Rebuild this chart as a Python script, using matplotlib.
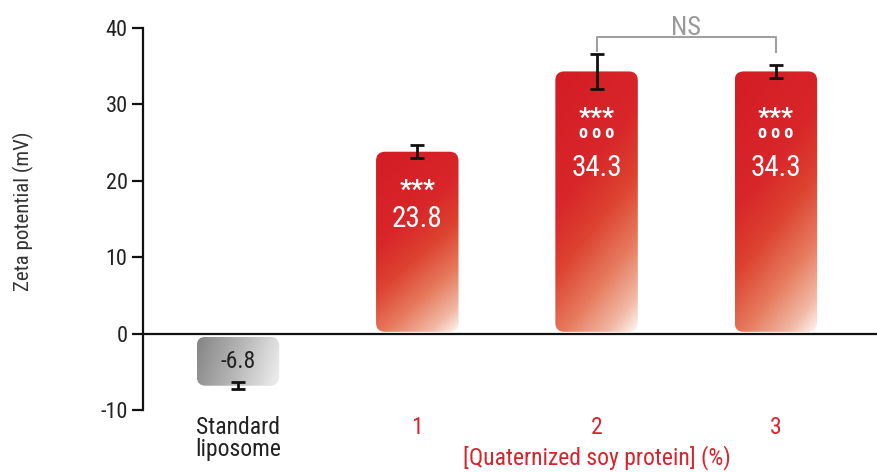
import numpy as np
import matplotlib
matplotlib.use("Agg")
import matplotlib.pyplot as plt
from matplotlib.patches import FancyBboxPatch
from matplotlib.colors import LinearSegmentedColormap

labels = ["Standard\nliposome", "1", "2", "3"]
values = [-6.8, 23.8, 34.3, 34.3]
errors = [0.45, 0.85, 2.3, 0.8]
stars = ["", "***", "***", "***"]
rings = ["", "", "o o o", "o o o"]
value_text = ["-6.8", "23.8", "34.3", "34.3"]

RED = "#d8242c"
plt.rcParams["font.family"] = ["Roboto Condensed", "DejaVu Sans"]

red_cmap = LinearSegmentedColormap.from_list(
    "redgrad", [(0.0, "#d41c25"), (0.38, "#d8262a"), (0.56, "#dd4230"),
                (0.74, "#e6795c"), (0.9, "#f1b8a4"), (1.0, "#fef6f2")])
gray_cmap = LinearSegmentedColormap.from_list(
    "graygrad", [(0.0, "#858585"), (0.5, "#b8b8b8"), (1.0, "#f0f0f0")])

fig = plt.figure(figsize=(8.77, 4.72), dpi=100)
ax = fig.add_axes([0.163, 0.131, 0.837, 0.810])
XLIM = (-0.53, 3.564)
YLIM = (-10, 40)
ax.set_xlim(XLIM)
ax.set_ylim(YLIM)

width = 0.46
# pixel scales so the rounded corners come out circular
fig.canvas.draw()
bbox = ax.get_window_extent()
px_x = bbox.width / (XLIM[1] - XLIM[0])
px_y = bbox.height / (YLIM[1] - YLIM[0])
rx = 9 / px_x
aspect = px_x / px_y

ny, nx = 200, 60
yy, xx = np.mgrid[0:1:ny * 1j, 0:1:nx * 1j]

for i, (v, e) in enumerate(zip(values, errors)):
    x0 = i - width / 2
    if v > 0:
        y0, h = 0.25, v - 0.25
        grad = np.clip((1.0 * (1 - yy) + 0.4 * xx) / 1.4, 0, 1)
        cmap = red_cmap
    else:
        y0, h = v, -v - 0.4
        grad = np.clip(0.85 * xx + 0.15 * (1 - yy), 0, 1)
        cmap = gray_cmap
    patch = FancyBboxPatch((x0, y0), width, h,
                           boxstyle=f"round,pad=0,rounding_size={rx}",
                           mutation_aspect=aspect, linewidth=0,
                           facecolor="none", zorder=2)
    ax.add_patch(patch)
    im = ax.imshow(grad, extent=[x0, x0 + width, y0, y0 + h], origin="lower",
                   aspect="auto", cmap=cmap, vmin=0, vmax=1, zorder=2,
                   interpolation="bilinear")
    im.set_clip_path(patch)
    ax.errorbar(i, v, yerr=e, fmt="none", ecolor="#111111", elinewidth=2,
                capsize=5, capthick=2, zorder=4)

ax.set_xlim(XLIM)
ax.set_ylim(YLIM)

# labels inside bars
for i, v in enumerate(values):
    if v > 0:
        if rings[i]:
            ax.text(i, v - 6.2, stars[i], ha="center", va="center", color="white",
                    fontsize=19, fontweight="bold", zorder=5)
            ax.text(i, v - 8.0, rings[i], ha="center", va="center", color="white",
                    fontsize=13, fontweight="bold", zorder=5)
            ax.text(i, v - 12.6, value_text[i], ha="center", va="center",
                    color="white", fontsize=21, zorder=5)
        else:
            ax.text(i, v - 5.1, stars[i], ha="center", va="center", color="white",
                    fontsize=19, fontweight="bold", zorder=5)
            ax.text(i, v - 8.8, value_text[i], ha="center", va="center",
                    color="white", fontsize=21, zorder=5)
    else:
        ax.text(i, -3.7, value_text[i], ha="center", va="center",
                color="#222222", fontsize=17, zorder=5)

# NS bracket
ax.plot([2, 2, 3, 3], [37.0, 38.8, 38.8, 36.9], color="#a0a0a0", lw=1.5,
        clip_on=False, zorder=3)
ax.text(2.5, 40.0, "NS", ha="center", va="center", color="#999999",
        fontsize=19, clip_on=False)

ax.axhline(0, color="#111111", lw=1.6, zorder=3)

for s in ["top", "right", "bottom"]:
    ax.spines[s].set_visible(False)
ax.spines["left"].set_linewidth(1.6)
ax.spines["left"].set_color("#111111")
ax.set_yticks([-10, 0, 10, 20, 30, 40])
ax.set_yticklabels(["-10", "0", "10", "20", "30", "40"])
ax.tick_params(axis="y", length=8, width=1.6, labelsize=16, color="#111111",
               labelcolor="#222222", pad=3)
ax.set_xticks(range(4))
ax.set_xticklabels(labels)
ax.tick_params(axis="x", length=0, labelsize=17, pad=4)
for j, lab in enumerate(ax.get_xticklabels()):
    lab.set_color("#222222" if j == 0 else RED)
    lab.set_linespacing(0.95)
ax.set_ylabel("Zeta potential (mV)", fontsize=15, color="#333333")
ax.yaxis.set_label_coords(-0.148, 0.52)
ax.text(2, -16.2, "[Quaternized soy protein] (%)", ha="center", va="center",
        color=RED, fontsize=17, clip_on=False)

fig.savefig("out.png", dpi=100)
